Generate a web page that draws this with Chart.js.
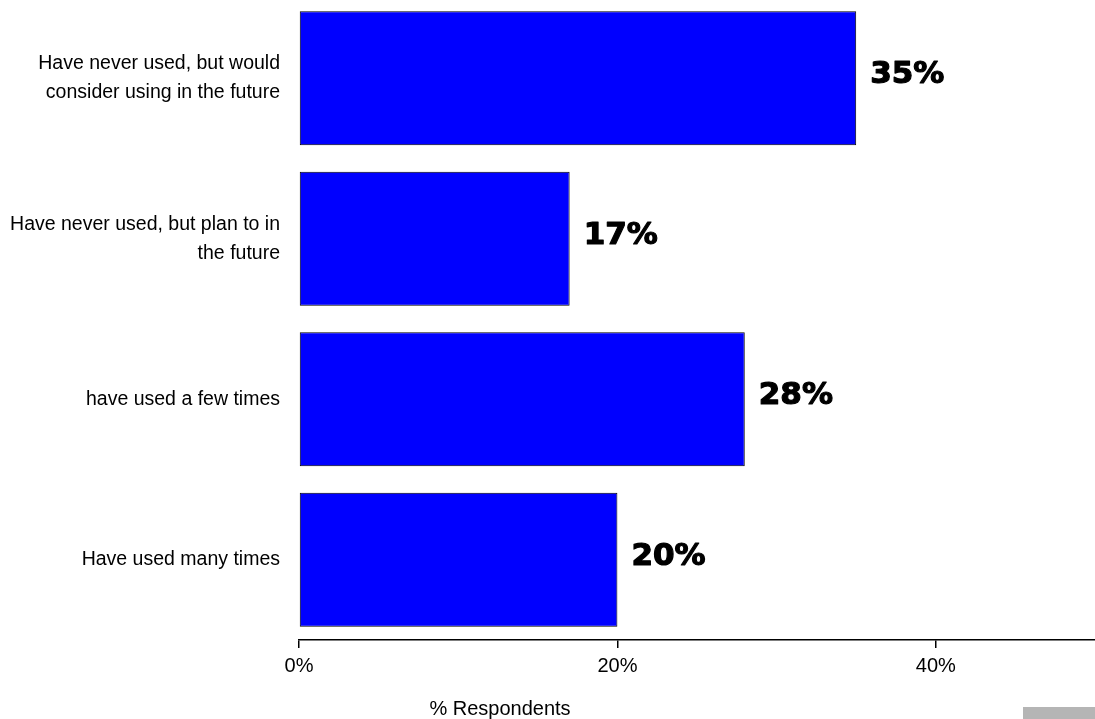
<!DOCTYPE html>
<html>
<head>
<meta charset="utf-8">
<script src="https://cdn.jsdelivr.net/npm/chart.js@4.4.1/dist/chart.umd.min.js"></script>
<style>
  html, body { margin:0; padding:0; background:#fff; }
  #wrap { position:relative; width:1095px; height:719px; overflow:hidden; }
  #chart1 { position:absolute; left:0; top:-2px; }
  #corner { position:absolute; left:1023px; top:707px; width:72px; height:12px; background:#b5b5b5; }
</style>
</head>
<body>
<div id="wrap">
  <canvas id="chart1" width="1095" height="721"></canvas>
  <div id="corner"></div>
</div>
<script>
// ── DATA ──────────────────────────────────────────────────
const categories = [
  ['Have never used, but would', 'consider using in the future'],
  ['Have never used, but plan to in', 'the future'],
  'have used a few times',
  'Have used many times',
];
const values = [35, 17, 28, 20];
const xTicks = [0, 20, 40];
const xTitle = '% Respondents';

const FONT = "'Liberation Sans', Arial, sans-serif";

// value labels to the right of each bar
const valueLabels = {
  id: 'valueLabels',
  afterDatasetsDraw(chart) {
    const { ctx } = chart;
    const meta = chart.getDatasetMeta(0);
    ctx.save();
    ctx.fillStyle = '#000';
    ctx.strokeStyle = '#000';
    ctx.lineWidth = 1.2;
    ctx.lineJoin = 'round';
    ctx.font = "bold 31px 'DejaVu Sans', sans-serif";
    ctx.textAlign = 'left';
    ctx.textBaseline = 'middle';
    meta.data.forEach((bar, i) => {
      const t = values[i] + '%';
      ctx.fillText(t, bar.x + 14, bar.y - 3);
      ctx.strokeText(t, bar.x + 14, bar.y - 3);
    });
    ctx.restore();
  }
};

// axis title sits left of the plot centre
const axisTitle = {
  id: 'axisTitle',
  afterDraw(chart) {
    const { ctx } = chart;
    ctx.save();
    ctx.fillStyle = '#000';
    ctx.font = '20px ' + FONT;
    ctx.textAlign = 'center';
    ctx.textBaseline = 'middle';
    ctx.fillText(xTitle, 500, 711);
    ctx.restore();
  }
};

const ctx = document.getElementById('chart1').getContext('2d');
new Chart(ctx, {
  type: 'bar',
  data: {
    labels: categories,
    datasets: [{
      data: values,
      backgroundColor: '#0000ff',
      borderColor: '#000',
      borderWidth: 1,
      borderSkipped: false,
      barPercentage: 0.835,
      categoryPercentage: 1.0,
    }]
  },
  options: {
    indexAxis: 'y',
    responsive: false,
    animation: false,
    layout: { padding: 0 },
    plugins: { legend: { display: false }, tooltip: { enabled: false } },
    scales: {
      x: {
        min: 0, max: 50,
        afterFit: s => { s.height = 79; s.paddingLeft = 0; s.paddingRight = 0; },
        afterBuildTicks: s => { s.ticks = xTicks.map(v => ({ value: v })); },
        border: { display: true, color: '#000', width: 1.5 },
        grid: { drawOnChartArea: false, drawTicks: true, tickLength: 8, color: '#000', lineWidth: 1.5 },
        ticks: { color: '#000', font: { family: FONT, size: 20 }, padding: 6, callback: v => v + '%' },
      },
      y: {
        afterFit: s => { s.width = 299; s.paddingTop = 0; s.paddingBottom = 0; },
        border: { display: false },
        grid: { display: false, drawTicks: false },
        ticks: { color: '#000', font: { family: FONT, size: 19.5, lineHeight: 1.5 }, padding: 19 },
      }
    }
  },
  plugins: [valueLabels, axisTitle]
});
</script>
</body>
</html>
